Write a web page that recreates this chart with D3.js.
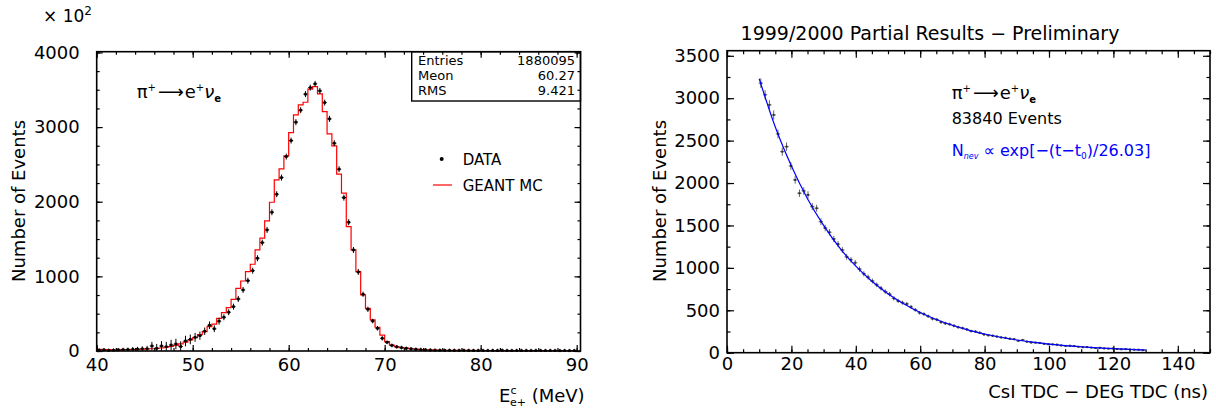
<!DOCTYPE html>
<html><head><meta charset="utf-8">
<script src="https://cdn.jsdelivr.net/npm/d3@7"></script>
<style>
body{margin:0;background:#fff;}
svg{display:block;font-family:"DejaVu Sans",sans-serif;}
</style></head><body>
<svg id="c" width="1216" height="416"></svg>
<script>
// ---------------- LEFT PANEL DATA (counts in units of 10^2) ----------------
const energyBinWidth = 0.5;
const dataCounts = [10,15,8,10,15,18,20,22,25,28,
  30,67,35,67,57,80,94,60,134,156,
  183,205,265,345,298,400,452,519,594,697,
  818,942,1076,1243,1452,1622,1859,2100,2323,2605,
  2819,3066,3226,3441,3529,3579,3485,3328,3110,2784,
  2436,2055,1725,1354,1059,760,559,402,304,170,
  117,75,56,45,35,28,22,18,15,12,
  10,9,8,8,7,6,7,6,5,6,
  5,5,6,5,8,5,4,5,4,5,
  4,5,4,4,5,4,3,4,3,4];
const dataErrors = [25,25,25,25,25,25,25,30,30,35,
  40,55,60,65,65,70,70,70,70,65,
  60,55,50,50,45,45,40,40,40,40,
  40,40,40,40,40,40,40,40,40,40,
  40,40,40,40,40,40,40,40,40,40,
  40,40,40,40,40,35,35,30,30,30,
  25,25,25,25,25,25,25,25,25,25,
  25,25,25,25,25,25,25,25,25,25,
  25,25,25,25,25,25,25,25,25,25,
  25,25,25,25,25,25,25,25,25,25];
const mcCounts = [22,20,18,16,16,18,18,20,22,25,
  28,30,35,40,50,60,75,95,120,150,
  180,220,260,326,360,438,513,580,693,840,
  938,1063,1162,1354,1511,1743,1993,2292,2440,2614,
  2926,3164,3298,3333,3508,3543,3445,3208,2909,2748,
  2369,2114,1666,1354,1063,751,572,416,318,214,
  125,80,58,45,38,30,25,20,16,14,
  12,11,10,10,9,9,8,8,8,7,
  7,7,7,6,6,6,6,6,5,5,
  5,5,5,5,5,4,4,4,4,4];
const energyBinLow = dataCounts.map((_, i) => 40 + i * energyBinWidth);
const energyTicks = [40,50,60,70,80,90];
const energyMinor = d3.range(40, 91, 2);
const countTicks = [0,1000,2000,3000,4000];
const countMinor = d3.range(0, 4001, 250);
const statsLabels = ["Entries","Meon","RMS"];
const statsValues = ["1880095","60.27","9.421"];
const legendLabels = ["DATA","GEANT MC"];

// ---------------- RIGHT PANEL DATA ----------------
const tdcCounts = [3177,3040,2921,2803,2579,2370,2429,2202,2037,1880,
  1907,1860,1722,1703,1545,1470,1420,1340,1280,1210,
  1130,1095,1060,985,930,890,845,800,760,720,
  690,640,610,590,575,540,505,470,455,430,
  400,390,360,345,335,318,300,290,275,255,
  250,235,215,205,200,190,180,175,165,160,
  140,150,130,120,118,115,105,100,98,95,
  85,80,82,78,70,65,66,60,55,58,
  50,48,50,44,40,42,38,36,35,30];
const tdcBinWidth = 1.333;
const tdcTimes = tdcCounts.map((_, k) => 10.5 + k * tdcBinWidth);
const fitTimes = [10,15,20,25,30,35,40,45,50,55,60,65,70,75,80,85,90,95,100,105,110,115,120,125,130];
const fitCounts = [3230,2660,2200,1815,1500,1235,1020,843,696,574,474,391,323,267,220,182,150,124,102,84,70,58,47,39,32];
const tdcTicks = [0,20,40,60,80,100,120,140];
const tdcMinor = d3.range(0, 151, 5);
const tdcCountTicks = [0,500,1000,1500,2000,2500,3000,3500];
const tdcCountMinor = d3.range(0, 3501, 250);

const svg = d3.select("#c");
const fmt = d3.format("d");

function frame(g, x, y, o) {
  const [x0, x1] = x.range(), [y0, y1] = y.range();
  const addAxis = (axis, tr) => {
    const a = g.append("g").attr("transform", tr).call(axis);
    a.select(".domain").remove();
    a.selectAll("line").attr("stroke", "#000").attr("stroke-width", 1.2);
    a.selectAll("text").attr("font-size", 18).attr("fill", "#000").attr("font-family", "DejaVu Sans");
    return a;
  };
  addAxis(d3.axisBottom(x).tickValues(o.xMajor).tickSize(-o.maj).tickPadding(o.xPad).tickFormat(fmt), `translate(0,${y0})`);
  addAxis(d3.axisBottom(x).tickValues(o.xMinor).tickSize(-o.min).tickFormat(""), `translate(0,${y0})`);
  addAxis(d3.axisTop(x).tickValues(o.xMajor).tickSize(-o.maj).tickFormat(""), `translate(0,${y1})`);
  addAxis(d3.axisTop(x).tickValues(o.xMinor).tickSize(-o.min).tickFormat(""), `translate(0,${y1})`);
  addAxis(d3.axisLeft(y).tickValues(o.yMajor).tickSize(-o.maj).tickPadding(o.yPad).tickFormat(fmt), `translate(${x0},0)`);
  addAxis(d3.axisLeft(y).tickValues(o.yMinor).tickSize(-o.min).tickFormat(""), `translate(${x0},0)`);
  addAxis(d3.axisRight(y).tickValues(o.yMajor).tickSize(-o.maj).tickFormat(""), `translate(${x1},0)`);
  addAxis(d3.axisRight(y).tickValues(o.yMinor).tickSize(-o.min).tickFormat(""), `translate(${x1},0)`);
  g.append("rect").attr("x", x0).attr("y", y1).attr("width", x1 - x0).attr("height", y0 - y1)
    .attr("fill", "none").attr("stroke", "#000").attr("stroke-width", 1.6);
}

// ---------------- LEFT PANEL ----------------
const xL = d3.scaleLinear().domain([40, 90.4]).range([96.7, 580.5]);
const yL = d3.scaleLinear().domain([0, 4010]).range([351, 51.7]);
const gL = svg.append("g");

const mcPts = energyBinLow.map((lo, i) => [lo, mcCounts[i]]);
mcPts.push([energyBinLow[energyBinLow.length - 1] + energyBinWidth, mcCounts[mcCounts.length - 1]]);
gL.append("path").datum(mcPts)
  .attr("d", d3.line().x(d => xL(d[0])).y(d => yL(d[1])).curve(d3.curveStepAfter))
  .attr("fill", "none").attr("stroke", "#ff0000").attr("stroke-width", 1.2);

const dp = gL.append("g").selectAll("g").data(dataCounts).join("g");
dp.append("line")
  .attr("x1", (d, i) => xL(energyBinLow[i]) + 0.3).attr("x2", (d, i) => xL(energyBinLow[i] + energyBinWidth) - 0.3)
  .attr("y1", d => yL(d)).attr("y2", d => yL(d)).attr("stroke", "#000").attr("stroke-width", 1);
dp.append("line")
  .attr("x1", (d, i) => xL(energyBinLow[i] + energyBinWidth / 2)).attr("x2", (d, i) => xL(energyBinLow[i] + energyBinWidth / 2))
  .attr("y1", (d, i) => yL(Math.max(0, d - dataErrors[i]))).attr("y2", (d, i) => yL(d + dataErrors[i]))
  .attr("stroke", "#000").attr("stroke-width", 1);
dp.append("rect")
  .attr("x", (d, i) => xL(energyBinLow[i] + energyBinWidth / 2) - 1.3).attr("y", d => yL(d) - 1.3)
  .attr("width", 2.6).attr("height", 2.6).attr("fill", "#000");

gL.append("rect").attr("x", 411.7).attr("y", 51.7).attr("width", 580.5 - 411.7).attr("height", 101 - 51.7)
  .attr("fill", "#fff").attr("stroke", "none");

frame(gL, xL, yL, {xMajor: energyTicks, xMinor: energyMinor, yMajor: countTicks, yMinor: countMinor,
  maj: 6, min: 3, xPad: 7, yPad: 17});

gL.append("rect").attr("x", 411.7).attr("y", 51.7).attr("width", 580.5 - 411.7).attr("height", 101 - 51.7)
  .attr("fill", "none").attr("stroke", "#000").attr("stroke-width", 1.4);
statsLabels.forEach((s, i) => {
  gL.append("text").attr("x", 418).attr("y", 65 + i * 15).attr("font-size", 13).text(s);
  gL.append("text").attr("x", 575).attr("y", 65 + i * 15).attr("font-size", 13).attr("text-anchor", "end").text(statsValues[i]);
});

gL.append("circle").attr("cx", 441.7).attr("cy", 159).attr("r", 2).attr("fill", "#000");
gL.append("text").attr("x", 462.7).attr("y", 165).attr("font-size", 15).text(legendLabels[0]);
gL.append("line").attr("x1", 433).attr("x2", 452).attr("y1", 185).attr("y2", 185).attr("stroke", "#ff0000").attr("stroke-width", 1.2);
gL.append("text").attr("x", 462.7).attr("y", 191).attr("font-size", 15).text(legendLabels[1]);

function decay(g, x, y) {
  const t = g.append("text").attr("x", x).attr("y", y).attr("font-size", 18);
  t.append("tspan").text("π");
  t.append("tspan").attr("dy", -7).attr("font-size", 10).text("+");
  t.append("tspan").attr("dy", 7).attr("dx", 2).text("⟶");
  t.append("tspan").attr("dx", 1).text("e");
  t.append("tspan").attr("dy", -7).attr("font-size", 10).text("+");
  t.append("tspan").attr("dy", 7).attr("font-style", "italic").text("ν");
  t.append("tspan").attr("dy", 4).attr("font-size", 10).attr("font-weight", "bold").text("e");
}
decay(gL, 136.7, 98);

gL.append("text").attr("x", 43).attr("y", 22).attr("font-size", 17).text("× 10")
  .append("tspan").attr("dy", -7).attr("font-size", 12).text("2");
gL.append("text").attr("transform", "translate(25,201) rotate(-90)").attr("text-anchor", "middle")
  .attr("font-size", 18).text("Number of Events");
const xt = gL.append("text").attr("x", 499).attr("y", 402).attr("font-size", 18);
xt.append("tspan").text("E");
xt.append("tspan").attr("dy", -8).attr("font-size", 11).text("c");
xt.append("tspan").attr("dx", -6.5).attr("dy", 12).attr("font-size", 11).text("e+");
xt.append("tspan").attr("dy", -4).text(" (MeV)");

// ---------------- RIGHT PANEL ----------------
const xR = d3.scaleLinear().domain([0, 150]).range([727, 1210]);
const yR = d3.scaleLinear().domain([0, 3560]).range([352.7, 50.7]);
const gR = svg.append("g");

const rp = gR.append("g").selectAll("g").data(tdcCounts).join("g");
rp.append("line")
  .attr("x1", (d, i) => xR(tdcTimes[i] - tdcBinWidth / 2)).attr("x2", (d, i) => xR(tdcTimes[i] + tdcBinWidth / 2))
  .attr("y1", d => yR(d)).attr("y2", d => yR(d)).attr("stroke", "#666").attr("stroke-width", 1);
rp.append("line")
  .attr("x1", (d, i) => xR(tdcTimes[i])).attr("x2", (d, i) => xR(tdcTimes[i]))
  .attr("y1", d => yR(d - Math.sqrt(d))).attr("y2", d => yR(d + Math.sqrt(d)))
  .attr("stroke", "#666").attr("stroke-width", 1);
rp.append("rect").attr("x", (d, i) => xR(tdcTimes[i]) - 1).attr("y", d => yR(d) - 1)
  .attr("width", 2).attr("height", 2).attr("fill", "#333");

gR.append("path").datum(fitTimes.map((t, i) => [t, fitCounts[i]]))
  .attr("d", d3.line().x(d => xR(d[0])).y(d => yR(d[1])).curve(d3.curveMonotoneX))
  .attr("fill", "none").attr("stroke", "#0000ff").attr("stroke-width", 1.2);

frame(gR, xR, yR, {xMajor: tdcTicks, xMinor: tdcMinor, yMajor: tdcCountTicks, yMinor: tdcCountMinor,
  maj: 7, min: 3.5, xPad: 5, yPad: 7});

gR.append("text").attr("x", 930).attr("y", 40).attr("text-anchor", "middle").attr("font-size", 19)
  .text("1999/2000 Partial Results − Preliminary");
gR.append("text").attr("transform", "translate(666,201) rotate(-90)").attr("text-anchor", "middle")
  .attr("font-size", 18).text("Number of Events");
gR.append("text").attr("x", 1208).attr("y", 398).attr("text-anchor", "end").attr("font-size", 18)
  .text("CsI TDC − DEG TDC (ns)");

decay(gR, 951.7, 99);
gR.append("text").attr("x", 951.7).attr("y", 124).attr("font-size", 16).text("83840 Events");
const ft = gR.append("text").attr("x", 951.7).attr("y", 156).attr("font-size", 16).attr("fill", "#0000ff");
ft.append("tspan").text("N");
ft.append("tspan").attr("dy", 3).attr("font-size", 8).attr("font-style", "italic").text("nev");
ft.append("tspan").attr("dy", -3).text(" ∝ exp[−(t−t");
ft.append("tspan").attr("dy", 3).attr("font-size", 9).text("0");
ft.append("tspan").attr("dy", -3).text(")/26.03]");
</script>
</body></html>
